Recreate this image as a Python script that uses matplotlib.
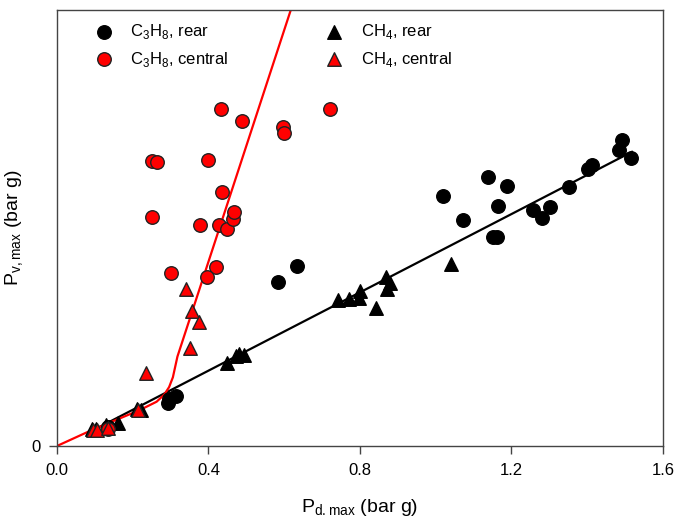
import matplotlib
matplotlib.use("Agg")
from matplotlib import pyplot as plt

plt.rcParams['font.family'] = ['Liberation Sans', 'DejaVu Sans']
plt.rcParams['mathtext.fontset'] = 'custom'
plt.rcParams['mathtext.rm'] = 'Liberation Sans'

# C3H8, rear (black circles)
c3_rear_x = [1.018, 1.073, 1.137, 1.187, 1.165, 1.152, 1.161, 1.258, 1.280, 1.301,
             1.352, 1.401, 1.414, 1.491, 1.485, 1.515, 0.583, 0.633, 0.292, 0.296,
             0.314, 0.135]
c3_rear_y = [1.147, 1.037, 1.235, 1.193, 1.102, 0.960, 0.957, 1.083, 1.044, 1.095,
             1.187, 1.269, 1.289, 1.404, 1.358, 1.320, 0.751, 0.824, 0.195, 0.216,
             0.229, 0.087]

# C3H8, central (red circles)
c3_cent_x = [0.433, 0.488, 0.596, 0.599, 0.722, 0.252, 0.265, 0.398, 0.435, 0.252,
             0.378, 0.427, 0.448, 0.465, 0.468, 0.300, 0.420, 0.395, 0.135]
c3_cent_y = [1.546, 1.491, 1.465, 1.437, 1.547, 1.307, 1.303, 1.313, 1.164, 1.049,
             1.014, 1.015, 0.994, 1.040, 1.073, 0.794, 0.822, 0.774, 0.077]

# CH4, rear (black triangles)
ch4_rear_x = [0.448, 0.473, 0.481, 0.495, 0.743, 0.771, 0.797, 0.800, 0.842, 0.868,
              0.872, 0.879, 1.040, 0.092, 0.103, 0.129, 0.161, 0.211, 0.222]
ch4_rear_y = [0.382, 0.413, 0.422, 0.419, 0.670, 0.673, 0.680, 0.712, 0.632, 0.777,
              0.719, 0.749, 0.835, 0.078, 0.078, 0.096, 0.106, 0.170, 0.165]

# CH4, central (red triangles)
ch4_cent_x = [0.341, 0.356, 0.374, 0.351, 0.235, 0.213, 0.096, 0.106, 0.135]
ch4_cent_y = [0.719, 0.621, 0.570, 0.448, 0.333, 0.165, 0.073, 0.073, 0.083]

# fitted lines
red_fit_x = [0.0, 0.092, 0.219, 0.263, 0.283, 0.296, 0.306, 0.318, 0.640]
red_fit_y = [0.0, 0.073, 0.165, 0.203, 0.235, 0.270, 0.315, 0.410, 2.12]
black_fit_x = [0.092, 1.518]
black_fit_y = [0.069, 1.349]

fig = plt.figure(figsize=(6.77, 5.21), dpi=100)
ax = fig.add_axes([0.0842, 0.144, 0.895, 0.837])

ms = 95
ax.plot(black_fit_x, black_fit_y, color='black', lw=1.6, zorder=2)
ax.plot(red_fit_x, red_fit_y, color='#ff0000', lw=1.6, zorder=2)

ax.scatter(c3_rear_x, c3_rear_y, s=ms, marker='o', color='black', zorder=3,
           label='C$_\\mathrm{3}$H$_\\mathrm{8}$, rear')
ax.scatter(c3_cent_x, c3_cent_y, s=ms, marker='o', facecolor='#ff0000',
           edgecolor='#222222', linewidth=1, zorder=4,
           label='C$_\\mathrm{3}$H$_\\mathrm{8}$, central')
ax.scatter(ch4_rear_x, ch4_rear_y, s=ms, marker='^', color='black', zorder=3,
           label='CH$_\\mathrm{4}$, rear')
ax.scatter(ch4_cent_x, ch4_cent_y, s=ms, marker='^', facecolor='#ff0000',
           edgecolor='#222222', linewidth=1, zorder=4,
           label='CH$_\\mathrm{4}$, central')

ax.set_xlim(0, 1.6)
ax.set_ylim(0, 2.0)
ax.set_xticks([0.0, 0.4, 0.8, 1.2, 1.6])
ax.set_xticklabels(['0.0', '0.4', '0.8', '1.2', '1.6'])
ax.set_yticks([0])
ax.set_yticklabels(['0'])
ax.tick_params(direction='out', length=6, width=1, color='#444444',
               labelsize=12, pad=6)
for sp in ax.spines.values():
    sp.set_color('#444444')
    sp.set_linewidth(1)

ax.set_xlabel('P$_\\mathrm{d.max}$ (bar g)', fontsize=14, labelpad=14)
ax.set_ylabel('P$_\\mathrm{v,max}$ (bar g)', fontsize=14, labelpad=4)

handles, labels = ax.get_legend_handles_labels()
ax.legend(handles, labels, ncol=2, loc='upper left', frameon=False,
          fontsize=12, bbox_to_anchor=(0.025, 1.006), columnspacing=5.3,
          handletextpad=0.6, labelspacing=0.5, scatterpoints=1)

fig.savefig('out.png', dpi=100)
